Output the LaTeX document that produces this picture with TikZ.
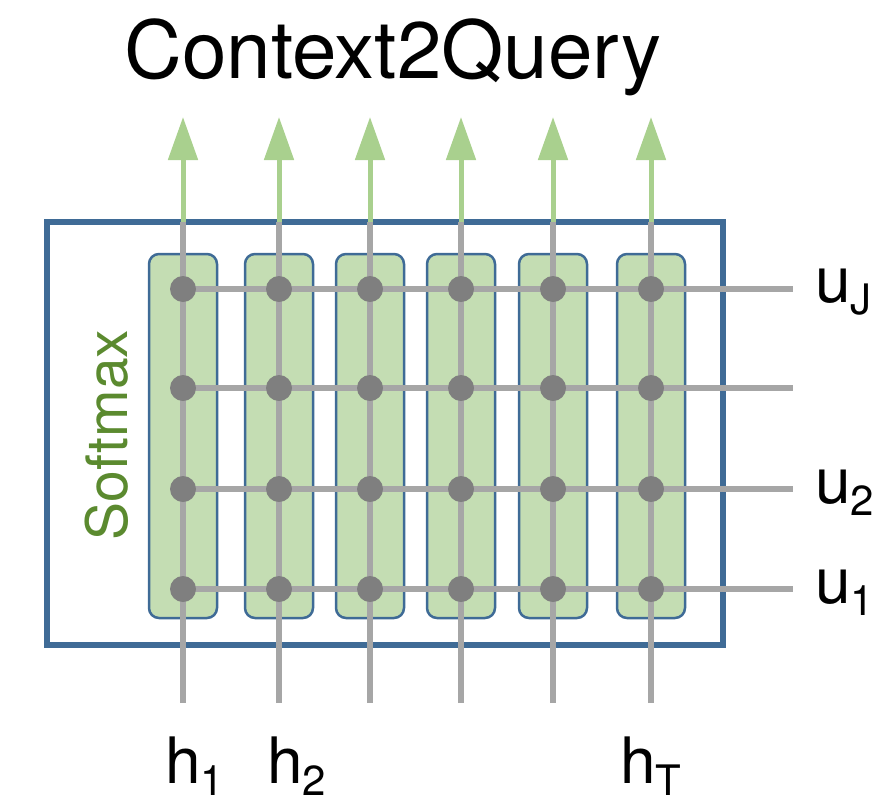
\documentclass[tikz,border=0pt]{standalone}
\usepackage{fontspec}
\setmainfont{TeX Gyre Heros}
\usetikzlibrary{arrows.meta}
\definecolor{boxblue}{HTML}{3f6b96}
\definecolor{cellgreen}{HTML}{c4ddb3}
\definecolor{arrowgreen}{HTML}{a9d08e}
\definecolor{textgreen}{HTML}{5b8a2f}
\definecolor{linegray}{HTML}{a6a6a6}
\definecolor{dotgray}{HTML}{7f7f7f}
\newcommand{\sublbl}[2]{#1\raisebox{-12pt}{\fontsize{42}{42}\selectfont #2}}

\begin{document}
\begin{tikzpicture}[x=1pt, y=-1pt,
  cell/.style={draw=boxblue, line width=2.5pt, fill=cellgreen, rounded corners=10pt},
  wire/.style={draw=linegray, line width=5.5pt},
  dot/.style={circle, fill=dotgray, inner sep=0pt, minimum size=26pt},
  outarrow/.style={draw=arrowgreen, line width=5pt, -{Triangle[length=43pt, width=29pt]}},
  lbl/.style={anchor=base west, inner sep=0pt, font=\fontsize{64}{64}\selectfont}]
\useasboundingbox (0,0) rectangle (893,803);

% outer softmax box
\draw[boxblue, line width=6pt] (47,222) rectangle (723,645);
\node[rotate=90, text=textgreen, font=\fontsize{57}{57}\selectfont] (softmax) at (107,435) {Softmax};

% columns
\foreach \i/\x in {1/183, 2/279, 3/370, 4/461, 5/553, 6/651} {
  \filldraw[cell] (\x-34,254) rectangle (\x+34,618);
  \coordinate (b\i) at (\x,703);
  \coordinate (t\i) at (\x,222);
  \coordinate (a\i) at (\x,117);
}
\foreach \i in {1,...,6}
  \draw[wire] (b\i) -- (t\i);

% rows
\foreach \j/\y in {1/589, 2/489, 3/388, 4/289} {
  \coordinate (l\j) at (183,\y);
  \coordinate (r\j) at (793,\y);
  \draw[wire] (l\j) -- (r\j);
}

% dots
\foreach \i/\x in {1/183, 2/279, 3/370, 4/461, 5/553, 6/651}
  \foreach \j/\y in {1/589, 2/489, 3/388, 4/289}
    \node[dot] (d\i-\j) at (\x,\y) {};

% outputs
\foreach \i in {1,...,6}
  \draw[outarrow] (t\i) -- (a\i);

% labels
\node[anchor=base, inner sep=0pt, font=\fontsize{80}{80}\selectfont] (title) at (393,78) {Context2Query};
\node[lbl] (uJ) at (815,302) {\sublbl{u}{J}};
\node[lbl] (u2) at (815,503) {\sublbl{u}{2}};
\node[lbl] (u1) at (815,603) {\sublbl{u}{1}};
\node[lbl] (h1) at (165,783) {\sublbl{h}{1}};
\node[lbl] (h2) at (267,783) {\sublbl{h}{2}};
\node[lbl] (hT) at (620,783) {\sublbl{h}{T}};
\end{tikzpicture}
\end{document}
